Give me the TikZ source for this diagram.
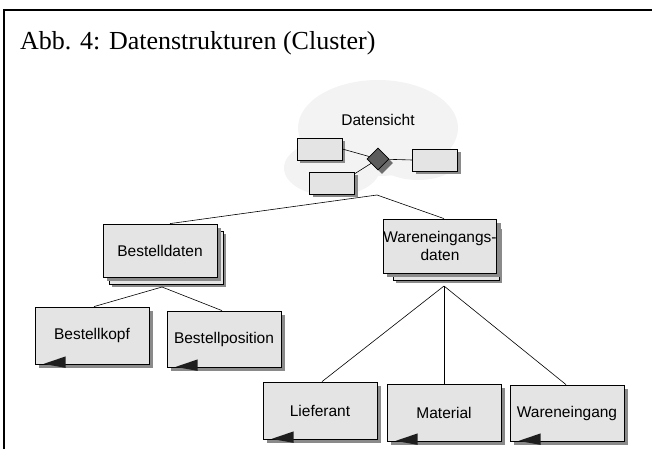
\documentclass[tikz,border=0pt]{standalone}
\usepackage{fontspec}
\setmainfont{Liberation Serif}
\newfontfamily\sansf{Liberation Sans}
\usetikzlibrary{shapes.geometric,shadows,calc}
\definecolor{boxfill}{HTML}{E4E4E4}
\definecolor{shadowgray}{HTML}{8A8A8A}
\definecolor{cloudfill}{HTML}{F3F3F3}
\definecolor{dmfill}{HTML}{5C5C5C}
\definecolor{trifill}{HTML}{1E1E1E}
\tikzset{
  ent/.style={draw=black, fill=boxfill, line width=0.8pt, inner sep=0pt,
    minimum width=114pt, minimum height=56pt, font=\sansf\fontsize{15.5}{18.5}\selectfont,
    align=center, drop shadow={shadow xshift=4pt, shadow yshift=-4pt, fill=shadowgray, opacity=1}},
  backbox/.style={draw=black, fill=boxfill, line width=0.8pt, inner sep=0pt,
    drop shadow={shadow xshift=3pt, shadow yshift=-3pt, fill=shadowgray, opacity=1}},
  small/.style={draw=black, fill=boxfill, line width=0.8pt, inner sep=0pt,
    minimum width=45pt, minimum height=22pt,
    drop shadow={shadow xshift=3pt, shadow yshift=-3pt, fill=shadowgray, opacity=1}},
  conn/.style={draw=black, line width=0.6pt},
  tri/.style={fill=trifill},
}
\begin{document}
\begin{tikzpicture}[x=1pt,y=-1pt]
\useasboundingbox (0,0) rectangle (652,449);
% frame
\draw[line width=2pt] (3.5,449) -- (3.5,10) -- (652,10);
\node[anchor=base west, inner sep=0pt, font=\fontsize{26}{30}\selectfont] (title) at (20,50) {Abb. 4: Datenstrukturen (Cluster)};
% cloud
\fill[cloudfill] (378,128) ellipse [x radius=80, y radius=48];
\fill[cloudfill] (332,168) ellipse [x radius=48, y radius=28];
\fill[cloudfill] (418,160) ellipse [x radius=40, y radius=20];
\node[font=\sansf\fontsize{15.5}{18.5}\selectfont, inner sep=0pt] (ds) at (378,120) {Datensicht};
% cloud internals
\node[small] (b1) at (319.5,149) {};
\node[small] (b2) at (332,183) {};
\node[small] (b3) at (435,160) {};
\draw[conn] (b1.east) -- (378,159);
\draw[conn] ($(b2.north east)+(0,2)$) -- (378,159);
\draw[conn] (378,159) -- (b3.west);
\node[diamond, aspect=1, minimum size=22pt, inner sep=0pt, draw=black, fill=dmfill, line width=0.6pt,
  drop shadow={shadow xshift=4pt, shadow yshift=-4pt, fill=shadowgray!80!black, opacity=1}] (dm) at (378,159) {};
\coordinate (cl) at (377,195);
% stacked boxes
\node[backbox, minimum width=114pt, minimum height=53pt] (bdb) at (166,257.5) {};
\node[ent, minimum height=53pt, drop shadow={shadow xshift=0pt, shadow yshift=0pt, opacity=0}] (bd) at (160,250.5) {Bestelldaten};
\node[backbox, minimum width=106pt, minimum height=54pt] (wdb) at (446,253) {};
\node[ent, minimum width=106pt, minimum height=54pt, drop shadow={shadow xshift=0pt, shadow yshift=0pt, opacity=0}] (wd) at (440,246) {Wareneingangs-\\daten};
% leaf boxes
\node[ent, minimum height=57pt] (bk) at (92,335.5) {Bestellkopf};
\node[ent] (bp) at (224,339) {Bestellposition};
\node[ent, minimum height=57pt] (lf) at (320,410.5) {Lieferant};
\node[ent, minimum height=57pt] (mt) at (444,412.5) {Material};
\node[ent] (we) at (567,413) {Wareneingang};
% connectors
\draw[conn] (cl) -- ($(bd.north)+(10,0)$);
\draw[conn] (cl) -- ($(wd.north)+(4,0)$);
\coordinate (bdj) at (162,287);
\draw[conn] (bdj) -- ($(bk.north)+(2,0)$);
\draw[conn] (bdj) -- ($(bp.north)+(-2,0)$);
\coordinate (wdj) at (444,286);
\draw[conn] (wdj) -- ($(lf.north)+(2,0)$);
\draw[conn] (wdj) -- (mt.north);
\draw[conn] (wdj) -- ($(we.north)+(-1,0)$);
% triangles
\foreach \n in {bk,bp,lf,mt,we}{
  \fill[tri] ($(\n.south west)+(9,-0.5)$) -- ($(\n.south west)+(31,-8)$) -- ($(\n.south west)+(31,3.5)$) -- cycle;
}
\end{tikzpicture}
\end{document}
